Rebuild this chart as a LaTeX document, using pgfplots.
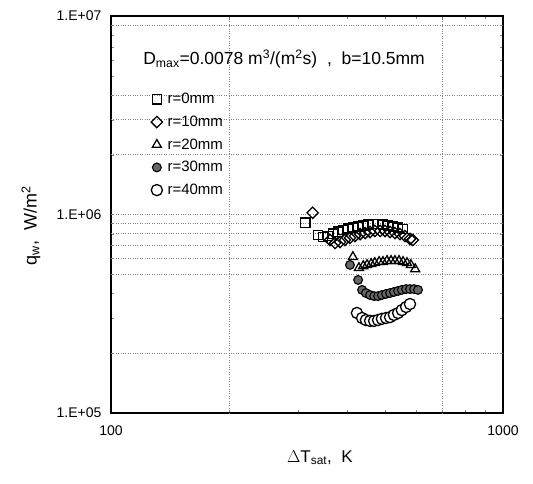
\documentclass[border=0pt]{standalone}
\usepackage{pgfplots}
\pgfplotsset{compat=1.18}
\usepackage{fontspec}
\setmainfont{Liberation Sans}

\begin{document}
\begin{tikzpicture}
\useasboundingbox (-111pt,-70pt) rectangle (422pt,413pt);
\begin{axis}[
  scale only axis, width=392pt, height=397pt,
  xmode=log, ymode=log,
  xmin=100, xmax=1000, ymin=1e5, ymax=1e7,
  xtick={100,1000}, xticklabels={100,1000},
  ytick={1e5,1e6,1e7}, yticklabels={1.E+05,1.E+06,1.E+07},
  minor tick num=0, minor xtick={}, minor ytick={},
  major tick length=0pt,
  tick label style={font=\fontsize{14}{16}\selectfont},
  xticklabel style={yshift=-9pt},
  yticklabel style={xshift=-6pt},
  axis line style={line width=1.2pt},
  extra y ticks={2e5,5e5,6e5,7e5,8e5,9e5,1e6,2e6,3e6,4e6,9e6},
  extra y tick labels={},
  extra x ticks={200,700},
  extra x tick labels={},
  extra y tick style={grid=major},
  extra x tick style={grid=major},
  major grid style={dotted, black!50, line width=0.8pt},
  xlabel={$\Delta$T\textsubscript{sat}, \ K},
  ylabel={q\textsubscript{w}, \ W/m\textsuperscript{2}},
  x label style={at={(axis description cs:0.533,-0.113)}, anchor=center,
    font=\fontsize{17}{20}\selectfont},
  y label style={at={(axis description cs:-0.204,0.471)}, anchor=center, rotate=0,
    font=\fontsize{18}{21}\selectfont},
  legend style={draw=none, fill=none, at={(axis description cs:0.102,0.808)},
    anchor=north west, font=\fontsize{15}{17}\selectfont,
    row sep=8.7pt, column sep=4pt, inner sep=0pt,
    nodes={inner sep=1pt}},
  legend cell align=left,
  legend image code/.code={\draw[#1] plot coordinates {(0pt,0pt)};},
]
% r = 0 mm
\addplot[only marks, mark=square, mark size=4.6pt,
  mark options={draw=black, fill=white, line width=1.3pt}] coordinates {
  (313,9.1e5)
  (337,7.9e5)(347,7.7e5)(358,7.8e5)(368,8.0e5)(379,8.2e5)(391,8.35e5)
  (402,8.5e5)(414,8.6e5)(427,8.7e5)(440,8.8e5)(453,8.9e5)(466,8.95e5)
  (480,8.95e5)(494,8.9e5)(509,8.8e5)(524,8.7e5)(540,8.6e5)(556,8.45e5)};
\addlegendentry{r=0mm}
% r = 10 mm
\addplot[only marks, mark=square, mark size=4.0pt,
  mark options={rotate=45, draw=black, fill=white, line width=1.3pt}] coordinates {
  (327,1.02e6)
  (362,7.44e5)(373,7.19e5)(384,7.27e5)(395,7.44e5)(407,7.62e5)(419,7.79e5)
  (432,7.97e5)(445,8.06e5)(458,8.16e5)(471,8.26e5)(486,8.26e5)(500,8.26e5)
  (515,8.16e5)(530,8.06e5)(546,7.97e5)(562,7.79e5)(579,7.53e5)(589,7.44e5)};
\addlegendentry{r=10mm}
% r = 20 mm
\addplot[only marks, mark=triangle, mark size=5.2pt,
  mark options={draw=black, fill=white, line width=1.3pt}] coordinates {
  (414,6.11e5)
  (429,5.38e5)(440,5.50e5)(450,5.57e5)(461,5.64e5)(471,5.70e5)(483,5.77e5)
  (494,5.77e5)(506,5.84e5)(518,5.84e5)(530,5.84e5)(543,5.84e5)(556,5.77e5)
  (569,5.70e5)(582,5.57e5)(597,5.31e5)};
\addlegendentry{r=20mm}
% r = 30 mm
\addplot[only marks, mark=*, mark size=4.4pt,
  mark options={draw=black, fill=black!60, line width=1.1pt}] coordinates {
  (407,5.57e5)(427,4.68e5)
  (437,4.17e5)(447,4.02e5)(458,3.93e5)(469,3.88e5)(480,3.88e5)(491,3.93e5)
  (503,3.98e5)(515,4.02e5)(527,4.07e5)(540,4.12e5)(552,4.17e5)(566,4.21e5)
  (579,4.21e5)(593,4.21e5)(607,4.17e5)};
\addlegendentry{r=30mm}
% r = 40 mm
\addplot[only marks, mark=*, mark size=5.6pt,
  mark options={draw=black, fill=white, line width=1.3pt}] coordinates {
  (424,3.19e5)
  (437,3.01e5)(447,2.94e5)(458,2.91e5)(469,2.91e5)(480,2.94e5)(491,2.98e5)
  (503,3.01e5)(515,3.04e5)(527,3.12e5)(540,3.19e5)(552,3.30e5)(566,3.42e5)
  (579,3.54e5)};
\addlegendentry{r=40mm}
\node[anchor=west, font=\fontsize{17.5}{20}\selectfont, inner sep=0pt]
  at (axis description cs:0.082,0.892)
  {D\textsubscript{max}=0.0078 m\textsuperscript{3}/(m\textsuperscript{2}s) \ , \ b=10.5mm};
\end{axis}
\end{tikzpicture}
\end{document}
